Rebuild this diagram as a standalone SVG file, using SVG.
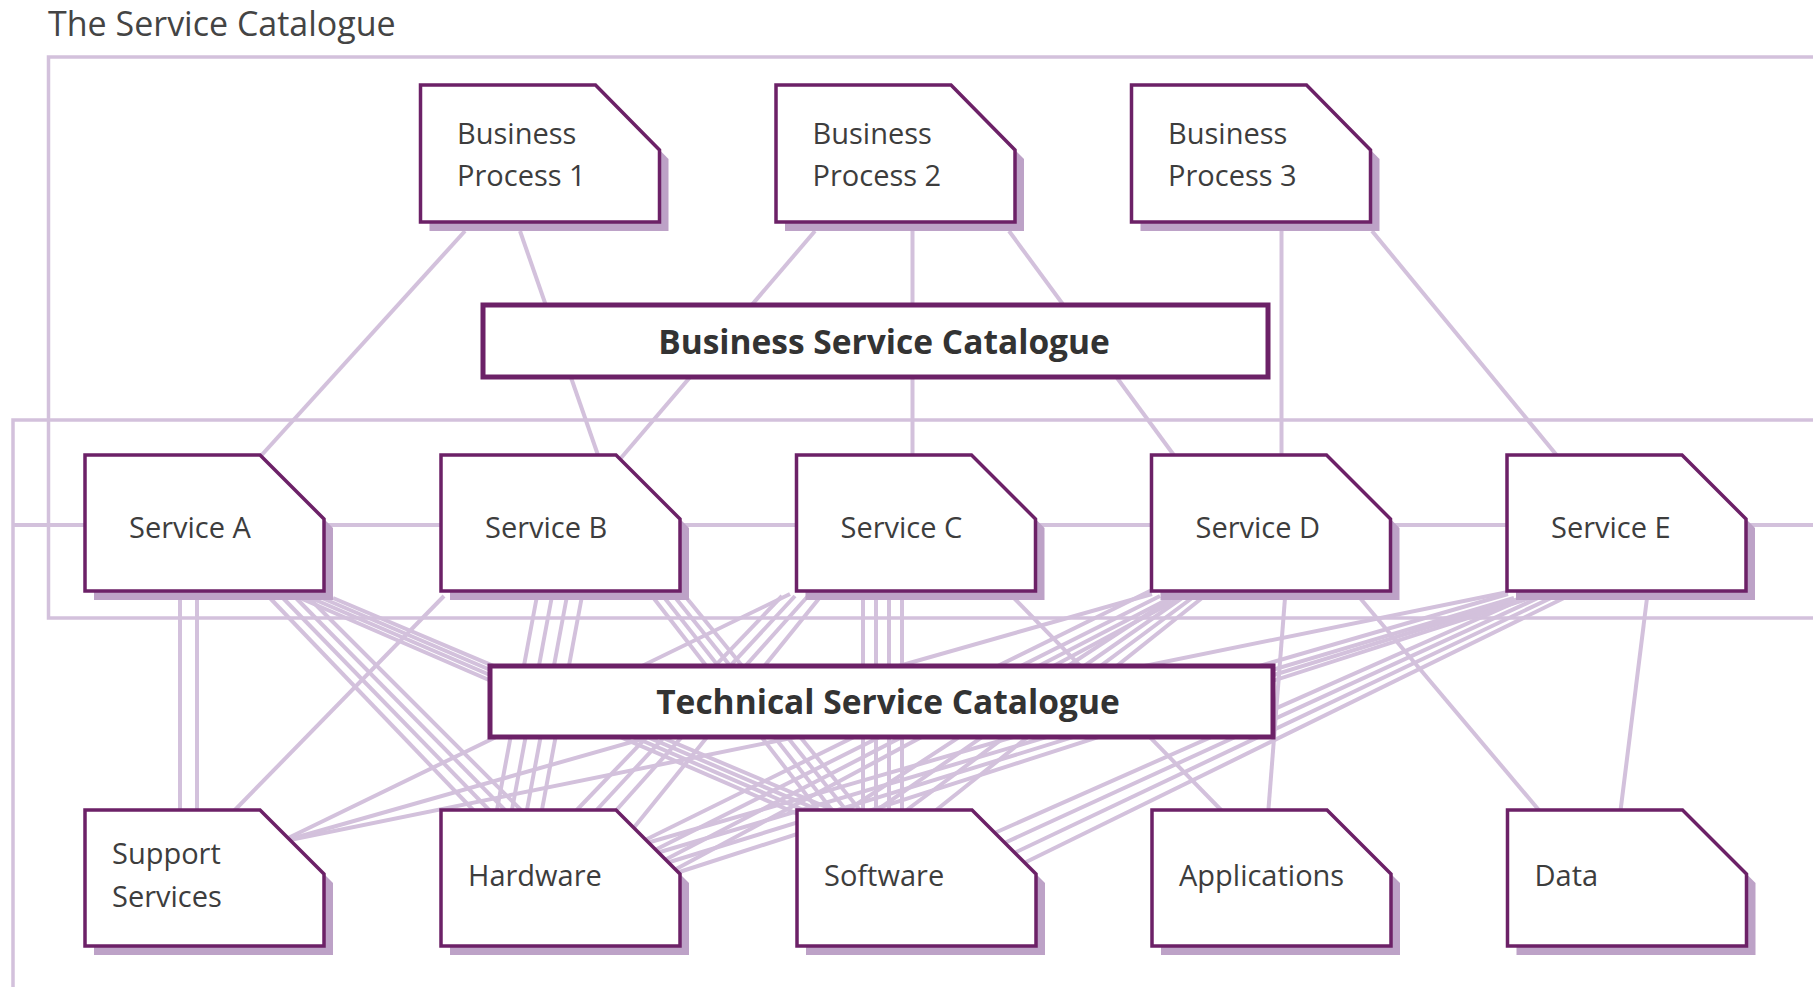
<svg xmlns="http://www.w3.org/2000/svg" width="1813" height="987" viewBox="0 0 1813 987">
<style>
.frame{fill:none;stroke:#d3c1dc;stroke-width:3.5}
.conn line{stroke:#d3c1dc;stroke-width:4;stroke-linecap:butt}
.box{fill:#fff;stroke:#6c2167;stroke-width:3.5;stroke-linejoin:miter}
.shadow{fill:#bda2c7}
.cat{fill:#fff;stroke:#6c2167;stroke-width:5}
.lbl{font-family:"Open Sans","Noto Sans",sans-serif;font-size:29px;fill:#3d3d3d}
.catlbl{font-family:"Open Sans","Noto Sans",sans-serif;font-size:33.5px;font-weight:bold;fill:#333;text-anchor:middle}
.title{font-family:"Open Sans","Noto Sans",sans-serif;font-size:34px;fill:#444}
</style>
<defs>
<path id="shape" d="M0 0 H175 L239 64 V136 H0 Z"/>
<path id="shapeBP" d="M0 0 H175 L239 65 V137 H0 Z"/>
</defs>
<rect width="1813" height="987" fill="#fff"/>
<text class="title" x="48" y="36">The Service Catalogue</text>
<g id="frames">
<rect class="frame" x="48.5" y="57" width="1800" height="561"/>
<rect class="frame" x="13" y="420" width="1840" height="600"/>
</g>
<g id="connectors" class="conn">
<line x1="13" y1="525" x2="1813" y2="525"/>
<line x1="465" y1="231" x2="259" y2="458"/>
<line x1="520" y1="231" x2="599" y2="458"/>
<line x1="815" y1="231" x2="621" y2="458"/>
<line x1="912.5" y1="231" x2="912.5" y2="458"/>
<line x1="1009" y1="231" x2="1176" y2="458"/>
<line x1="1281.5" y1="231" x2="1281.5" y2="458"/>
<line x1="1372" y1="231" x2="1559" y2="458"/>
<line x1="180" y1="596" x2="180" y2="815"/>
<line x1="197" y1="596" x2="197" y2="815"/>
<line x1="268" y1="596" x2="478" y2="815"/>
<line x1="281" y1="596" x2="494" y2="815"/>
<line x1="294" y1="596" x2="510" y2="815"/>
<line x1="307" y1="596" x2="526" y2="815"/>
<line x1="300" y1="598" x2="800" y2="815"/>
<line x1="311" y1="598" x2="815" y2="815"/>
<line x1="322" y1="598" x2="830" y2="815"/>
<line x1="333" y1="598" x2="845" y2="815"/>
<line x1="444" y1="596" x2="230" y2="815"/>
<line x1="537" y1="596" x2="496" y2="815"/>
<line x1="552" y1="596" x2="511" y2="815"/>
<line x1="567" y1="596" x2="526" y2="815"/>
<line x1="582" y1="596" x2="541" y2="815"/>
<line x1="652" y1="596" x2="822" y2="815"/>
<line x1="663" y1="596" x2="836" y2="815"/>
<line x1="674" y1="596" x2="850" y2="815"/>
<line x1="685" y1="596" x2="864" y2="815"/>
<line x1="790" y1="594" x2="280" y2="842"/>
<line x1="782" y1="596" x2="572" y2="815"/>
<line x1="795" y1="596" x2="592" y2="815"/>
<line x1="808" y1="596" x2="612" y2="815"/>
<line x1="821" y1="596" x2="632" y2="830"/>
<line x1="863" y1="596" x2="863" y2="815"/>
<line x1="876" y1="596" x2="876" y2="815"/>
<line x1="889" y1="596" x2="889" y2="815"/>
<line x1="902" y1="596" x2="902" y2="815"/>
<line x1="1010" y1="594" x2="1226" y2="815"/>
<line x1="1152" y1="594" x2="280" y2="842"/>
<line x1="1152" y1="590" x2="635" y2="845"/>
<line x1="1160" y1="596" x2="645" y2="855"/>
<line x1="1170" y1="598" x2="655" y2="865"/>
<line x1="1180" y1="598" x2="665" y2="875"/>
<line x1="1172" y1="598" x2="840" y2="815"/>
<line x1="1182" y1="598" x2="870" y2="815"/>
<line x1="1192" y1="598" x2="900" y2="815"/>
<line x1="1202" y1="598" x2="930" y2="815"/>
<line x1="1285" y1="598" x2="1268" y2="815"/>
<line x1="1360" y1="598" x2="1543" y2="815"/>
<line x1="1508" y1="592" x2="280" y2="842"/>
<line x1="1508" y1="594" x2="640" y2="845"/>
<line x1="1514" y1="598" x2="650" y2="855"/>
<line x1="1522" y1="598" x2="660" y2="865"/>
<line x1="1530" y1="598" x2="670" y2="875"/>
<line x1="1525" y1="598" x2="990" y2="835"/>
<line x1="1538" y1="598" x2="1000" y2="845"/>
<line x1="1551" y1="598" x2="1010" y2="855"/>
<line x1="1564" y1="598" x2="1020" y2="865"/>
<line x1="1647" y1="598" x2="1620" y2="815"/>
</g>
<g id="business-service-catalogue">
<rect class="cat" x="483" y="305" width="785" height="72"/>
<text class="catlbl" x="884" y="354">Business Service Catalogue</text>
</g>
<g id="technical-service-catalogue">
<rect class="cat" x="490" y="666" width="783" height="71"/>
<text class="catlbl" x="888" y="714">Technical Service Catalogue</text>
</g>
<g id="bp1" transform="translate(420.5,85)">
<use href="#shapeBP" class="shadow" x="9" y="9"/><use href="#shapeBP" class="box"/>
<text class="lbl" x="36.5" y="59">Business</text><text class="lbl" x="36.5" y="101">Process 1</text>
</g>
<g id="bp2" transform="translate(776,85)">
<use href="#shapeBP" class="shadow" x="9" y="9"/><use href="#shapeBP" class="box"/>
<text class="lbl" x="36.5" y="59">Business</text><text class="lbl" x="36.5" y="101">Process 2</text>
</g>
<g id="bp3" transform="translate(1131.5,85)">
<use href="#shapeBP" class="shadow" x="9" y="9"/><use href="#shapeBP" class="box"/>
<text class="lbl" x="36.5" y="59">Business</text><text class="lbl" x="36.5" y="101">Process 3</text>
</g>
<g id="service-a" transform="translate(85,455)">
<use href="#shape" class="shadow" x="9" y="9"/><use href="#shape" class="box"/>
<text class="lbl" x="44" y="83">Service A</text>
</g>
<g id="service-b" transform="translate(441,455)">
<use href="#shape" class="shadow" x="9" y="9"/><use href="#shape" class="box"/>
<text class="lbl" x="44" y="83">Service B</text>
</g>
<g id="service-c" transform="translate(796.5,455)">
<use href="#shape" class="shadow" x="9" y="9"/><use href="#shape" class="box"/>
<text class="lbl" x="44" y="83">Service C</text>
</g>
<g id="service-d" transform="translate(1151.5,455)">
<use href="#shape" class="shadow" x="9" y="9"/><use href="#shape" class="box"/>
<text class="lbl" x="44" y="83">Service D</text>
</g>
<g id="service-e" transform="translate(1507,455)">
<use href="#shape" class="shadow" x="9" y="9"/><use href="#shape" class="box"/>
<text class="lbl" x="44" y="83">Service E</text>
</g>
<g id="support-services" transform="translate(85,810)">
<use href="#shape" class="shadow" x="9" y="9"/><use href="#shape" class="box"/>
<text class="lbl" x="27" y="54">Support</text><text class="lbl" x="27" y="97">Services</text>
</g>
<g id="hardware" transform="translate(441,810)">
<use href="#shape" class="shadow" x="9" y="9"/><use href="#shape" class="box"/>
<text class="lbl" x="27" y="76">Hardware</text>
</g>
<g id="software" transform="translate(797,810)">
<use href="#shape" class="shadow" x="9" y="9"/><use href="#shape" class="box"/>
<text class="lbl" x="27" y="76">Software</text>
</g>
<g id="applications" transform="translate(1152,810)">
<use href="#shape" class="shadow" x="9" y="9"/><use href="#shape" class="box"/>
<text class="lbl" x="27" y="76">Applications</text>
</g>
<g id="data" transform="translate(1507.5,810)">
<use href="#shape" class="shadow" x="9" y="9"/><use href="#shape" class="box"/>
<text class="lbl" x="27" y="76">Data</text>
</g>
</svg>
